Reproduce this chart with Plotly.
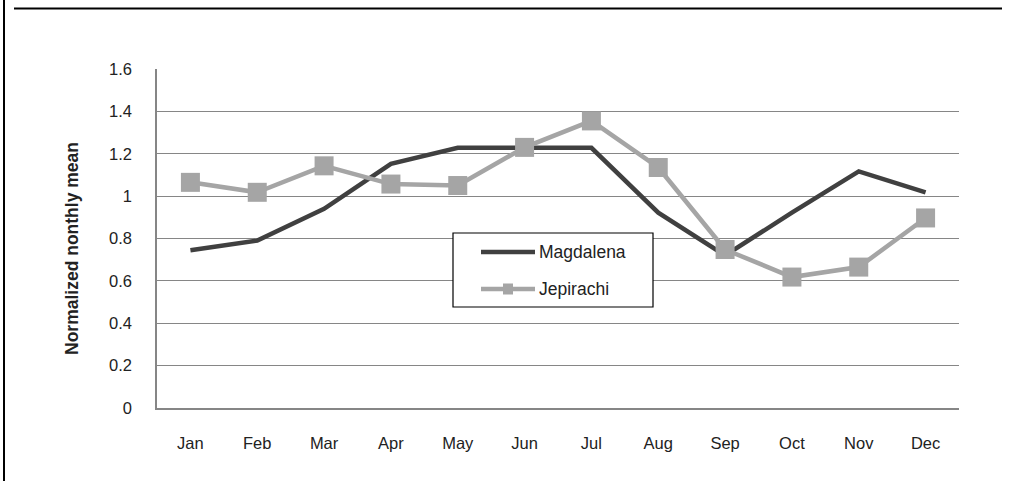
import plotly.graph_objects as go

months = ["Jan", "Feb", "Mar", "Apr", "May", "Jun", "Jul", "Aug", "Sep", "Oct", "Nov", "Dec"]
magdalena = [0.745, 0.79, 0.94, 1.152, 1.228, 1.228, 1.228, 0.922, 0.72, 0.922, 1.117, 1.018]
jepirachi = [1.065, 1.018, 1.143, 1.057, 1.05, 1.23, 1.355, 1.135, 0.748, 0.618, 0.665, 0.897]
y_title = "Normalized nonthly mean"

W, H = 1009, 481
L, R, T, B = 157, 959, 69, 408  # plot area in pixels

def px(x):
    return (x - L) / (R - L)

def py(y):
    return (B - y) / (B - T)

FONT = "Liberation Sans, Arial, sans-serif"
DARK = "#404040"
LIGHT = "#a5a5a5"
GRID = "#868686"

fig = go.Figure()
fig.add_trace(go.Scatter(x=months, y=magdalena, mode="lines", name="Magdalena",
                         line=dict(color=DARK, width=4.5), showlegend=False))
fig.add_trace(go.Scatter(x=months, y=jepirachi, mode="lines+markers", name="Jepirachi",
                         line=dict(color=LIGHT, width=4.5),
                         marker=dict(symbol="square", size=19, color=LIGHT),
                         showlegend=False))

shapes = [
    # outer frame fragments
    dict(type="line", xref="paper", yref="paper", x0=px(4), x1=px(4), y0=py(482), y1=py(-1),
         line=dict(color="black", width=2)),
    dict(type="line", xref="paper", yref="paper", x0=px(14), x1=px(1002), y0=py(8.5), y1=py(8.5),
         line=dict(color="black", width=2)),
    # legend box
    dict(type="rect", xref="paper", yref="paper", x0=px(453), x1=px(653), y0=py(233), y1=py(307),
         line=dict(color="black", width=1.2), fillcolor="white", layer="above"),
    dict(type="line", xref="paper", yref="paper", x0=px(481), x1=px(535), y0=py(252), y1=py(252),
         line=dict(color=DARK, width=4.5), layer="above"),
    dict(type="line", xref="paper", yref="paper", x0=px(481), x1=px(535), y0=py(289), y1=py(289),
         line=dict(color=LIGHT, width=4.5), layer="above"),
    dict(type="rect", xref="paper", yref="paper", x0=px(503), x1=px(513), y0=py(283.5), y1=py(294.5),
         line=dict(color=LIGHT, width=0), fillcolor=LIGHT, layer="above"),
]

annotations = [
    dict(text="Magdalena", xref="paper", yref="paper", x=px(537), y=py(252), xanchor="left",
         yanchor="middle", showarrow=False, font=dict(family=FONT, size=17.5, color="#222")),
    dict(text="Jepirachi", xref="paper", yref="paper", x=px(537), y=py(289), xanchor="left",
         yanchor="middle", showarrow=False, font=dict(family=FONT, size=17.5, color="#222")),
    dict(text="<b>" + y_title + "</b>", xref="paper", yref="paper", x=px(72), y=py(249),
         xanchor="center", yanchor="middle", textangle=-90, showarrow=False,
         font=dict(family=FONT, size=17.5, color="#222")),
]

fig.update_layout(
    width=W, height=H,
    margin=dict(l=L, r=W - R, t=T, b=H - B, pad=0),
    paper_bgcolor="white", plot_bgcolor="white",
    font=dict(family=FONT, size=17, color="#222"),
    shapes=shapes, annotations=annotations,
    showlegend=False,
)
fig.update_xaxes(type="category", range=[-0.5, 11.5], showgrid=False, showline=True,
                 linecolor=GRID, linewidth=1.5, ticks="", ticklabelstandoff=19,
                 tickfont=dict(family=FONT, size=16.5, color="#222"), automargin=False,
                 fixedrange=True)
fig.update_yaxes(range=[0, 1.6], dtick=0.2, tick0=0, showgrid=True, gridcolor=GRID, gridwidth=1.2,
                 zeroline=False, showline=True, linecolor=GRID, linewidth=1.5, ticks="",
                 ticklabelstandoff=20, tickfont=dict(family=FONT, size=16.5, color="#222"),
                 automargin=False, fixedrange=True)

fig.write_html("out.html", config={"displayModeBar": False},
               post_script="document.body.style.margin='0';document.body.style.padding='0';")
